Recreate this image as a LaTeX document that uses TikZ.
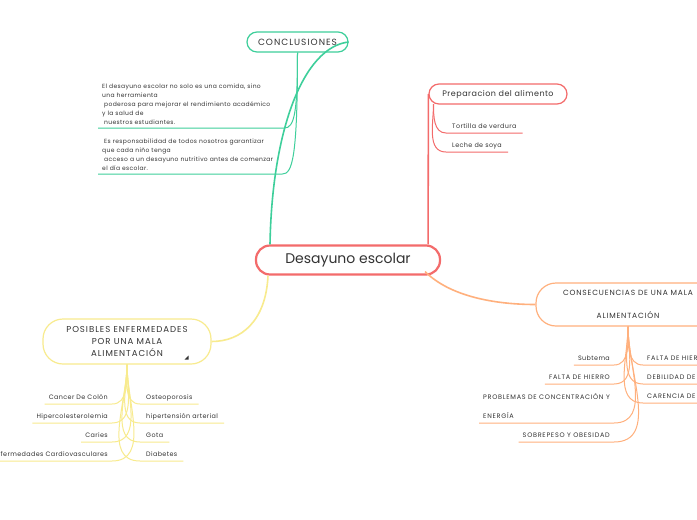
\documentclass[tikz,border=0pt]{standalone}
\usepackage{fontspec}
\setmainfont{Poppins}[LetterSpace=6]
\newfontfamily\capsfont{Poppins}[LetterSpace=11]
\newfontfamily\titlefont{Poppins}
\definecolor{redline}{HTML}{F36B6B}
\definecolor{tealline}{HTML}{3ECF9B}
\definecolor{orangeline}{HTML}{FFB07D}
\definecolor{yellowline}{HTML}{F8EB8E}
\definecolor{inktext}{HTML}{333333}
\begin{document}
\begin{tikzpicture}[
		x=1pt, y=1pt,
		box/.style={fill=white,text=inktext,align=center,inner sep=0pt},
		mainbox/.style={box,draw=redline,line width=2.2pt,rounded corners=14pt,
			minimum width=184pt,minimum height=29pt,font=\titlefont\fontsize{14}{16}\selectfont},
		topicbox/.style={box,line width=1.2pt,rounded corners=10pt,minimum height=20pt,
			font=\capsfont\fontsize{9}{10}\selectfont},
		bigbox/.style={box,line width=1.2pt,rounded corners=20pt},
		note/.style={text=inktext,align=left,inner xsep=4pt,inner ysep=3pt,
			font=\fontsize{6}{9}\selectfont},
		leaf/.style={text=inktext,inner xsep=4pt,inner ysep=2.5pt,text height=5pt,text depth=1.5pt,
			font=\fontsize{6.4}{8}\selectfont},
		capsleaf/.style={leaf,font=\capsfont\fontsize{6.5}{8}\selectfont},
		branch/.style={line width=1.6pt},
		twig/.style={line width=1pt},
	]
	\useasboundingbox[fill=white] (0,0) rectangle (697,-520);

	% ---------- central topic ----------
	\node[mainbox] (main) at (348,-260) {Desayuno escolar};

	% ---------- conclusiones ----------
	\node[topicbox,draw=tealline,minimum width=101pt] (concl) at (297.5,-42) {CONCLUSIONES};
	\node[note,anchor=south west,text width=178pt] (nota1) at (98,-128) {El desayuno escolar no solo es una comida, sino\\
		una herramienta\\
		\ poderosa para mejorar el rendimiento académico\\
		y la salud de\\
		\ nuestros estudiantes.};
	\node[note,anchor=south west,text width=176pt] (nota2) at (98,-174) {\ Es responsabilidad de todos nosotros garantizar\\
		que cada niño tenga\\
		\ acceso a un desayuno nutritivo antes de comenzar\\
		el día escolar.};
	\draw[tealline,branch] ([xshift=-78pt]main.north) .. controls +(2,115) and +(-45,-5) .. (concl.east);
	\draw[tealline,twig] (concl.south) .. controls +(0,-60) and +(10,0) .. (nota1.south east) -- (nota1.south west);
	\draw[tealline,twig] (concl.south) .. controls +(0,-105) and +(10,0) .. (nota2.south east) -- (nota2.south west);

	% ---------- preparacion ----------
	\node[topicbox,draw=redline,minimum width=138pt,font=\fontsize{8}{10}\selectfont] (prep) at (498,-94) {Preparacion del alimento};
	\node[leaf,anchor=south west,inner xsep=6pt] (tortilla) at (446,-133) {Tortilla de verdura};
	\node[leaf,anchor=south west,inner xsep=6pt] (leche) at (446,-152) {Leche de soya};
	\coordinate (prepstem) at (433.5,-104);
	\draw[redline,branch] ([xshift=-13pt]main.north east) to[out=90,in=-90] (prep.west);
	\draw[redline,twig] (prepstem) to[out=-90,in=180] (tortilla.south west) -- (tortilla.south east);
	\draw[redline,twig] (prepstem) to[out=-90,in=180] (leche.south west) -- (leche.south east);

	% ---------- consecuencias ----------
	\node[bigbox,draw=orangeline,minimum width=184pt,minimum height=43pt,
		font=\capsfont\fontsize{7.5}{23}\selectfont] (conse) at (628,-304.5) {CONSECUENCIAS DE UNA MALA\\ALIMENTACIÓN};
	\draw[orangeline,branch] ([xshift=-16pt,yshift=4pt]main.south east) .. controls +(25,-25) and +(-40,0) .. (conse.west);
	\node[capsleaf,anchor=south east] (subtema) at (614,-365) {\fontsize{6.4}{8}\rmfamily Subtema};
	\node[capsleaf,anchor=south east] (hierro) at (614,-384) {FALTA DE HIERRO};
	\node[capsleaf,anchor=south east,text height=6pt,text depth=1.5pt,align=left,
		font=\capsfont\fontsize{6.5}{19}\selectfont] (concen) at (614,-423) {PROBLEMAS DE CONCENTRACIÓN Y\\ENERGÍA};
	\node[capsleaf,anchor=south east] (sobrepeso) at (614,-442) {SOBREPESO Y OBESIDAD};
	\node[capsleaf,anchor=south west] (hierro2) at (643,-365) {FALTA DE HIERRO};
	\node[capsleaf,anchor=south west] (debil) at (643,-384) {DEBILIDAD DE HUESOS};
	\node[capsleaf,anchor=south west] (carencia) at (643,-403) {CARENCIA DE VITAMINAS};
	\foreach \leafname in {subtema,hierro,concen,sobrepeso}
	\draw[orangeline,twig] (conse.south) to[out=-90,in=0] (\leafname.south east) -- (\leafname.south west);
	\foreach \leafname in {hierro2,debil,carencia}
	\draw[orangeline,twig] (conse.south) to[out=-90,in=180] (\leafname.south west) -- (\leafname.south east);

	% ---------- posibles enfermedades ----------
	\node[bigbox,draw=yellowline,minimum width=168pt,minimum height=45pt,
		font=\capsfont\fontsize{8.6}{12}\selectfont] (enferm) at (127,-341.5) {POSIBLES ENFERMEDADES\\POR UNA MALA\\ALIMENTACIÓN};
	\fill[inktext] (184.5,-359.5) -- (188.5,-359.5) -- (188.5,-355.5) -- cycle;
	\draw[yellowline,branch] ([xshift=-80pt]main.south) .. controls +(-2,-45) and +(30,0) .. (enferm.east);
	\node[leaf,anchor=south east] (colon) at (112,-404) {Cancer De Colón};
	\node[leaf,anchor=south east] (hiperc) at (112,-423) {Hipercolesterolemia};
	\node[leaf,anchor=south east] (caries) at (112,-442) {Caries};
	\node[leaf,anchor=south east] (cardio) at (112,-461) {Enfermedades Cardiovasculares};
	\node[leaf,anchor=south west,inner xsep=6pt] (osteo) at (140,-404) {Osteoporosis};
	\node[leaf,anchor=south west,inner xsep=6pt] (hipert) at (140,-423) {hipertensión arterial};
	\node[leaf,anchor=south west,inner xsep=6pt] (gota) at (140,-442) {Gota};
	\node[leaf,anchor=south west,inner xsep=6pt] (diab) at (140,-461) {Diabetes};
	\foreach \leafname in {colon,hiperc,caries,cardio}
	\draw[yellowline,twig] (enferm.south) to[out=-90,in=0] (\leafname.south east) -- (\leafname.south west);
	\foreach \leafname in {osteo,hipert,gota,diab}
	\draw[yellowline,twig] (enferm.south) to[out=-90,in=180] (\leafname.south west) -- (\leafname.south east);

\end{tikzpicture}
\end{document}
